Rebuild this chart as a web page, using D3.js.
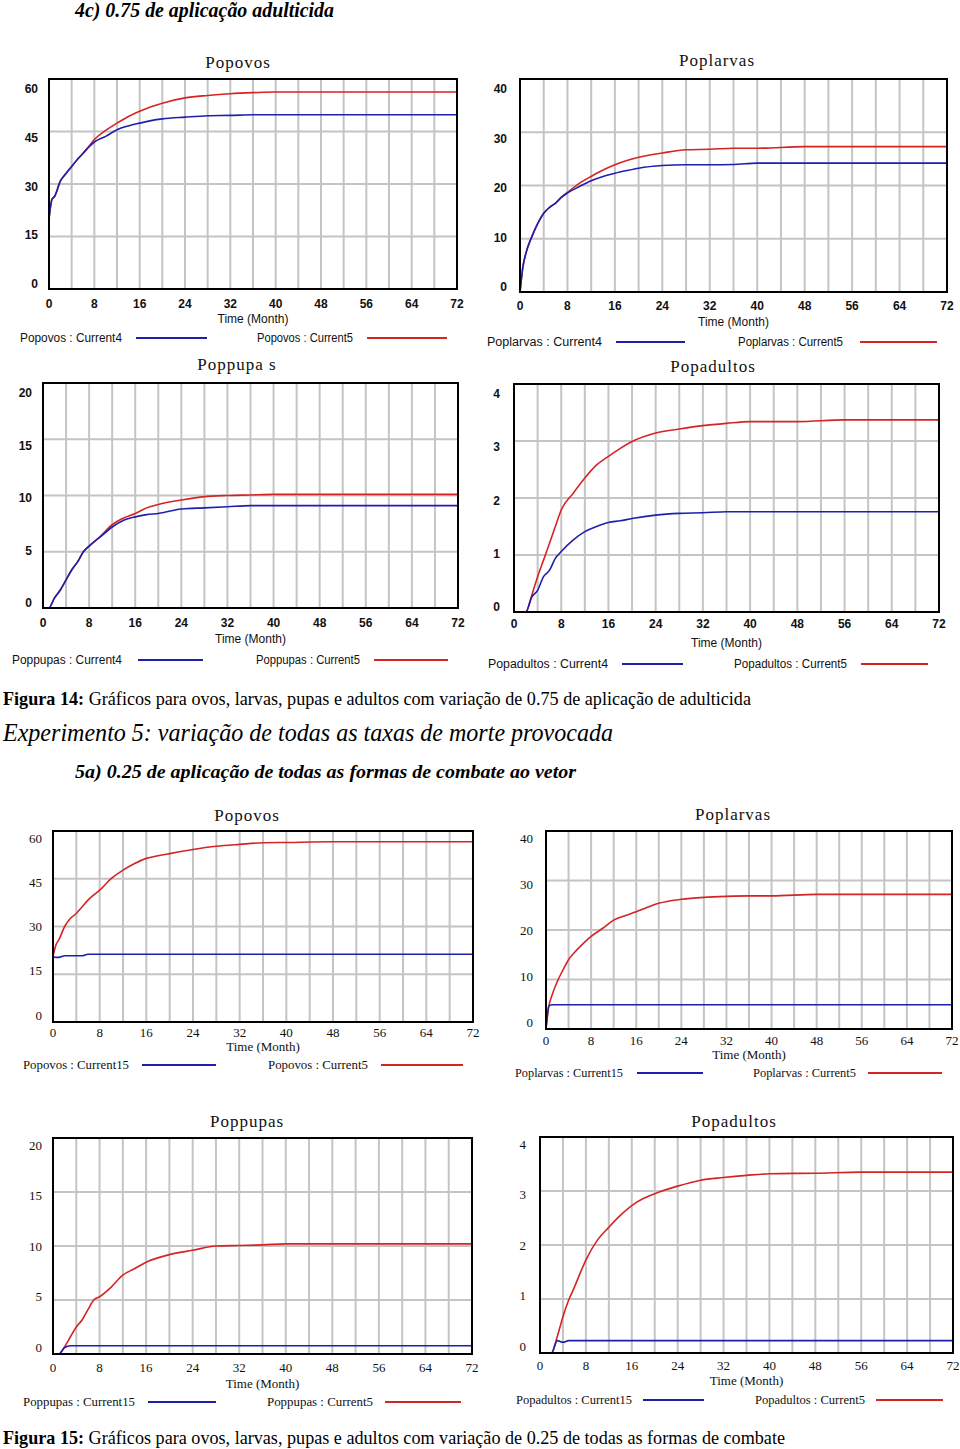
<!DOCTYPE html>
<html><head><meta charset="utf-8">
<script src="https://cdnjs.cloudflare.com/ajax/libs/d3/7.8.5/d3.min.js"></script>
<style>body{margin:0;background:#fff}svg{display:block}</style>
</head><body><svg id="c" width="960" height="1449"></svg>
<script>
// ---------- data ----------
const months = [0,0.5,1,2,3,4,5,6,7,8,10,12,14,16,18,20,24,28,32,36,40,48,56,64,72];
const monthTicks = [0,8,16,24,32,40,48,56,64,72];
const monthGrid = [4,8,12,16,20,24,28,32,36,40,44,48,52,56,60,64,68];
const ovosTicks = [0,15,30,45,60];
const larvasTicks = [0,10,20,30,40];
const pupasTicks = [0,5,10,15,20];
const adultosTicks = [0,1,2,3,4];
const xAxisTitle = "Time (Month)";

// Experiment 4c (0.75 adulticide)
const ovos4cCurrent4 = [20,25.5,26.5,30.8,33,35,37,38.7,40.5,42,43.6,45.5,46.6,47.4,48.1,48.6,49.1,49.5,49.6,49.8,49.8,49.8,49.8,49.8,49.8];
const ovos4cCurrent5 = [20,25.5,26.5,30.8,33,35,37,38.8,40.7,42.7,45.3,47.4,49.3,50.8,52.1,53.1,54.6,55.3,55.8,56.1,56.3,56.3,56.3,56.3,56.3];
const larvas4cCurrent4 = [0,4.8,7.3,10.4,12.9,14.8,15.9,16.7,17.8,18.6,19.8,20.9,21.7,22.3,22.8,23.25,23.75,23.9,23.9,23.95,24.2,24.2,24.2,24.2,24.2];
const larvas4cCurrent5 = [0,4.8,7.3,10.4,12.9,14.8,15.9,16.7,17.8,18.7,20.4,21.7,22.9,23.9,24.7,25.3,26.1,26.7,26.8,27.0,27.0,27.3,27.3,27.3,27.3];
const pupas4cCurrent4 = [0,0,0,0.9,1.6,2.5,3.4,4.1,5.0,5.5,6.35,7.2,7.8,8.1,8.3,8.4,8.8,8.9,9.0,9.1,9.1,9.1,9.1,9.1,9.1];
const pupas4cCurrent5 = [0,0,0,0.9,1.6,2.5,3.4,4.1,5.0,5.5,6.4,7.4,8.0,8.4,8.9,9.2,9.6,9.9,10.0,10.05,10.1,10.1,10.1,10.1,10.1];
const adultos4cCurrent4 = [0,0,0,0,0.26,0.38,0.62,0.73,0.94,1.06,1.26,1.41,1.5,1.57,1.6,1.64,1.7,1.73,1.74,1.76,1.76,1.76,1.76,1.76,1.76];
const adultos4cCurrent5 = [0,0,0,0,0.29,0.62,0.91,1.2,1.5,1.79,2.08,2.35,2.58,2.73,2.87,2.99,3.14,3.21,3.27,3.31,3.34,3.34,3.37,3.37,3.37];
const names4c = ["Current4","Current5"];

// Experiment 5a (0.25 all control forms)
const ovos5aCurrent15 = [20.6,20.3,20.3,20.8,20.8,20.8,20.8,21.3,21.3,21.3,21.3,21.3,21.3,21.3,21.3,21.3,21.3,21.3,21.3,21.3,21.3,21.3,21.3,21.3,21.3];
const ovos5aCurrent5 = [20.6,24.2,25.8,30,32.6,34.1,36.2,38.3,39.9,41.4,45.1,47.7,49.8,51.4,52.2,52.9,54.2,55.2,55.8,56.3,56.4,56.6,56.6,56.6,56.6];
const larvas5aCurrent15 = [0,4.6,4.9,4.9,4.9,4.9,4.9,4.9,4.9,4.9,4.9,4.9,4.9,4.9,4.9,4.9,4.9,4.9,4.9,4.9,4.9,4.9,4.9,4.9,4.9];
const larvas5aCurrent5 = [0,4.6,6.6,9.6,11.9,14,15.4,16.6,17.7,18.7,20.3,22,22.9,23.7,24.6,25.4,26.2,26.6,26.8,26.9,26.9,27.2,27.2,27.2,27.2];
const pupas5aCurrent15 = [0,0,0,0.6,0.77,0.77,0.77,0.77,0.77,0.77,0.77,0.77,0.77,0.77,0.77,0.77,0.77,0.77,0.77,0.77,0.77,0.77,0.77,0.77,0.77];
const pupas5aCurrent5 = [0,0,0,0.68,1.6,2.5,3.15,4.1,5.0,5.3,6.2,7.3,7.9,8.5,8.9,9.2,9.6,10.0,10.05,10.1,10.2,10.2,10.2,10.2,10.2];
const adultos5aCurrent15 = [0,0,0,0,0.23,0.2,0.23,0.23,0.23,0.23,0.23,0.23,0.23,0.23,0.23,0.23,0.23,0.23,0.23,0.23,0.23,0.23,0.23,0.23,0.23];
const adultos5aCurrent5 = [0,0,0,0,0.3,0.67,0.98,1.22,1.48,1.72,2.09,2.33,2.55,2.73,2.86,2.95,3.09,3.2,3.25,3.29,3.32,3.33,3.35,3.35,3.35];
const names5a = ["Current15","Current5"];

// ---------- layout ----------
const pixelStyle = {tick:"'Liberation Sans Narrow','Arial Narrow',sans-serif", tickSize:12, tickWeight:"bold", axWeight:"normal",
  title:"'Liberation Serif','Times New Roman',serif", titleSize:17, legend:"'Liberation Sans Narrow',sans-serif", legendSize:12, labTop:10, labBot:5};
const serifStyle = {tick:"'Liberation Serif','Times New Roman',serif", tickSize:13, tickWeight:"normal", axWeight:"normal",
  title:"'Liberation Serif','Times New Roman',serif", titleSize:17, legend:"'Liberation Serif',serif", legendSize:12.5, labTop:7, labBot:7};

const panels = [
  {name:"Popovos", title:"Popovos", ticks:ovosTicks, blue:ovos4cCurrent4, red:ovos4cCurrent5, names:names4c, st:pixelStyle,
   L:49,R:457,T:79,B:289, titleY:62, titleX:238, xlabY:304, axY:319, yLabGap:11,
   legY:338, leg:[20,102,136,207,257,96,367,447]},
  {name:"Poplarvas", title:"Poplarvas", ticks:larvasTicks, blue:larvas4cCurrent4, red:larvas4cCurrent5, names:names4c, st:pixelStyle,
   L:520,R:947,T:79,B:292, titleY:60, titleX:717, xlabY:306, axY:322, yLabGap:13,
   legY:342, leg:[487,115,616,685,738,105,860,937]},
  {name:"Poppupas", title:"Poppupa s", ticks:pupasTicks, blue:pupas4cCurrent4, red:pupas4cCurrent5, names:names4c, st:pixelStyle,
   L:43,R:458,T:383,B:608, titleY:364, titleX:237, xlabY:623, axY:639, yLabGap:11,
   legY:660, leg:[12,110,138,203,256,104,374,448]},
  {name:"Popadultos", title:"Popadultos", ticks:adultosTicks, blue:adultos4cCurrent4, red:adultos4cCurrent5, names:names4c, st:pixelStyle,
   L:514,R:939,T:384,B:612, titleY:366, titleX:713, xlabY:624, axY:643, yLabGap:14,
   legY:664, leg:[488,120,622,683,734,113,861,928]},
  {name:"Popovos", title:"Popovos", ticks:ovosTicks, blue:ovos5aCurrent15, red:ovos5aCurrent5, names:names5a, st:serifStyle,
   L:53,R:473,T:831,B:1022, titleY:815, titleX:247, xlabY:1032, axY:1046, yLabGap:11,
   legY:1065, leg:[23,106,142,216,268,100,381,463]},
  {name:"Poplarvas", title:"Poplarvas", ticks:larvasTicks, blue:larvas5aCurrent15, red:larvas5aCurrent5, names:names5a, st:serifStyle,
   L:546,R:952,T:831,B:1029, titleY:814, titleX:733, xlabY:1040, axY:1054, yLabGap:13,
   legY:1073, leg:[515,108,637,703,753,103,868,942]},
  {name:"Poppupas", title:"Poppupas", ticks:pupasTicks, blue:pupas5aCurrent15, red:pupas5aCurrent5, names:names5a, st:serifStyle,
   L:53,R:472,T:1138,B:1354, titleY:1121, titleX:247, xlabY:1367, axY:1383, yLabGap:11,
   legY:1402, leg:[23,112,148,216,267,106,385,461]},
  {name:"Popadultos", title:"Popadultos", ticks:adultosTicks, blue:adultos5aCurrent15, red:adultos5aCurrent5, names:names5a, st:serifStyle,
   L:540,R:953,T:1137,B:1353, titleY:1121, titleX:734, xlabY:1365, axY:1380, yLabGap:14,
   legY:1400, leg:[516,116,643,704,755,110,876,943]}
];

const BLUE = "#1f1fae", RED = "#d42424", GRID = "#c4c4c4";
const svg = d3.select("#c");

// ---------- captions ----------
const serif = "'Liberation Serif','Times New Roman',serif";
function caption(x, y, parts, size, len, style, weight) {
  const t = svg.append("text").attr("x", x).attr("y", y)
    .attr("font-family", serif).attr("font-size", size).attr("fill", "#000")
    .attr("font-style", style || "normal").attr("font-weight", weight || "normal")
    .attr("textLength", len).attr("lengthAdjust", "spacingAndGlyphs");
  parts.forEach(p => t.append("tspan").attr("font-weight", p.b ? "bold" : null).text(p.t));
}
caption(75, 17, [{t:"4c) 0.75 de aplicação adulticida"}], 20, 259, "italic", "bold");
caption(3, 705, [{t:"Figura 14:", b:true},{t:" Gráficos  para ovos, larvas, pupas e adultos com variação de 0.75 de aplicação de adulticida"}], 19, 748);
caption(3, 741, [{t:"Experimento 5: variação de todas as taxas de morte provocada"}], 25, 610, "italic");
caption(75, 778, [{t:"5a) 0.25 de aplicação de todas as formas de combate ao vetor"}], 19, 501, "italic", "bold");
caption(3, 1444, [{t:"Figura 15:", b:true},{t:" Gráficos  para ovos, larvas, pupas e adultos com variação de 0.25 de todas as formas de combate"}], 19, 782);

// ---------- panels ----------
panels.forEach(p => {
  const st = p.st;
  const g = svg.append("g");
  const x = d3.scaleLinear().domain([0, 72]).range([p.L, p.R]);
  const y = d3.scaleLinear().domain([0, p.ticks[p.ticks.length-1]]).range([p.B, p.T]);
  const yLab = d3.scaleLinear().domain(y.domain()).range([p.B - st.labBot, p.T + st.labTop]);

  // grid
  g.selectAll(".vg").data(monthGrid).join("line")
    .attr("x1", d => x(d)).attr("x2", d => x(d)).attr("y1", p.T).attr("y2", p.B)
    .attr("stroke", GRID).attr("stroke-width", 2);
  g.selectAll(".hg").data(p.ticks.slice(1, -1)).join("line")
    .attr("y1", d => y(d)).attr("y2", d => y(d)).attr("x1", p.L).attr("x2", p.R)
    .attr("stroke", GRID).attr("stroke-width", 2);

  // series
  const line = d3.line().x((d, i) => x(months[i])).y(d => y(d)).curve(d3.curveMonotoneX);
  g.append("path").datum(p.red).attr("d", line).attr("fill", "none").attr("stroke", RED).attr("stroke-width", 1.6);
  g.append("path").datum(p.blue).attr("d", line).attr("fill", "none").attr("stroke", BLUE).attr("stroke-width", 1.6);

  // box
  g.append("rect").attr("x", p.L).attr("y", p.T).attr("width", p.R - p.L).attr("height", p.B - p.T)
    .attr("fill", "none").attr("stroke", "#000").attr("stroke-width", 2);

  // y labels
  g.selectAll(".yl").data(p.ticks).join("text")
    .attr("x", p.L - p.yLabGap).attr("y", d => yLab(d)).attr("dy", "0.35em")
    .attr("text-anchor", "end").attr("font-family", st.tick).attr("font-size", st.tickSize)
    .attr("font-weight", st.tickWeight).attr("fill", "#111").text(d => d);

  // x labels
  g.selectAll(".xl").data(monthTicks).join("text")
    .attr("x", d => x(d)).attr("y", p.xlabY).attr("dy", "0.35em")
    .attr("text-anchor", "middle").attr("font-family", st.tick).attr("font-size", st.tickSize)
    .attr("font-weight", st.tickWeight).attr("fill", "#111").text(d => d);

  // axis title
  g.append("text").attr("x", (p.L + p.R) / 2).attr("y", p.axY).attr("dy", "0.35em")
    .attr("text-anchor", "middle").attr("font-family", st.tick).attr("font-size", st.tickSize)
    .attr("font-weight", st.axWeight).attr("fill", "#111").text(xAxisTitle);

  // title
  g.append("text").attr("x", p.titleX).attr("y", p.titleY).attr("dy", "0.35em")
    .attr("text-anchor", "middle").attr("font-family", st.title).attr("font-size", st.titleSize)
    .attr("letter-spacing", 1).attr("fill", "#111").text(p.title);

  // legend
  const [lx, lw, b1, b2, rx, rw, r1, r2] = p.leg;
  g.append("text").attr("x", lx).attr("y", p.legY).attr("dy", "0.35em")
    .attr("font-family", st.legend).attr("font-size", st.legendSize).attr("fill", "#111")
    .attr("textLength", lw).attr("lengthAdjust", "spacingAndGlyphs")
    .text(p.name + " : " + p.names[0]);
  g.append("line").attr("x1", b1).attr("x2", b2).attr("y1", p.legY).attr("y2", p.legY)
    .attr("stroke", BLUE).attr("stroke-width", 1.8);
  g.append("text").attr("x", rx).attr("y", p.legY).attr("dy", "0.35em")
    .attr("font-family", st.legend).attr("font-size", st.legendSize).attr("fill", "#111")
    .attr("textLength", rw).attr("lengthAdjust", "spacingAndGlyphs")
    .text(p.name + " : " + p.names[1]);
  g.append("line").attr("x1", r1).attr("x2", r2).attr("y1", p.legY).attr("y2", p.legY)
    .attr("stroke", RED).attr("stroke-width", 1.8);
});
</script></body></html>
